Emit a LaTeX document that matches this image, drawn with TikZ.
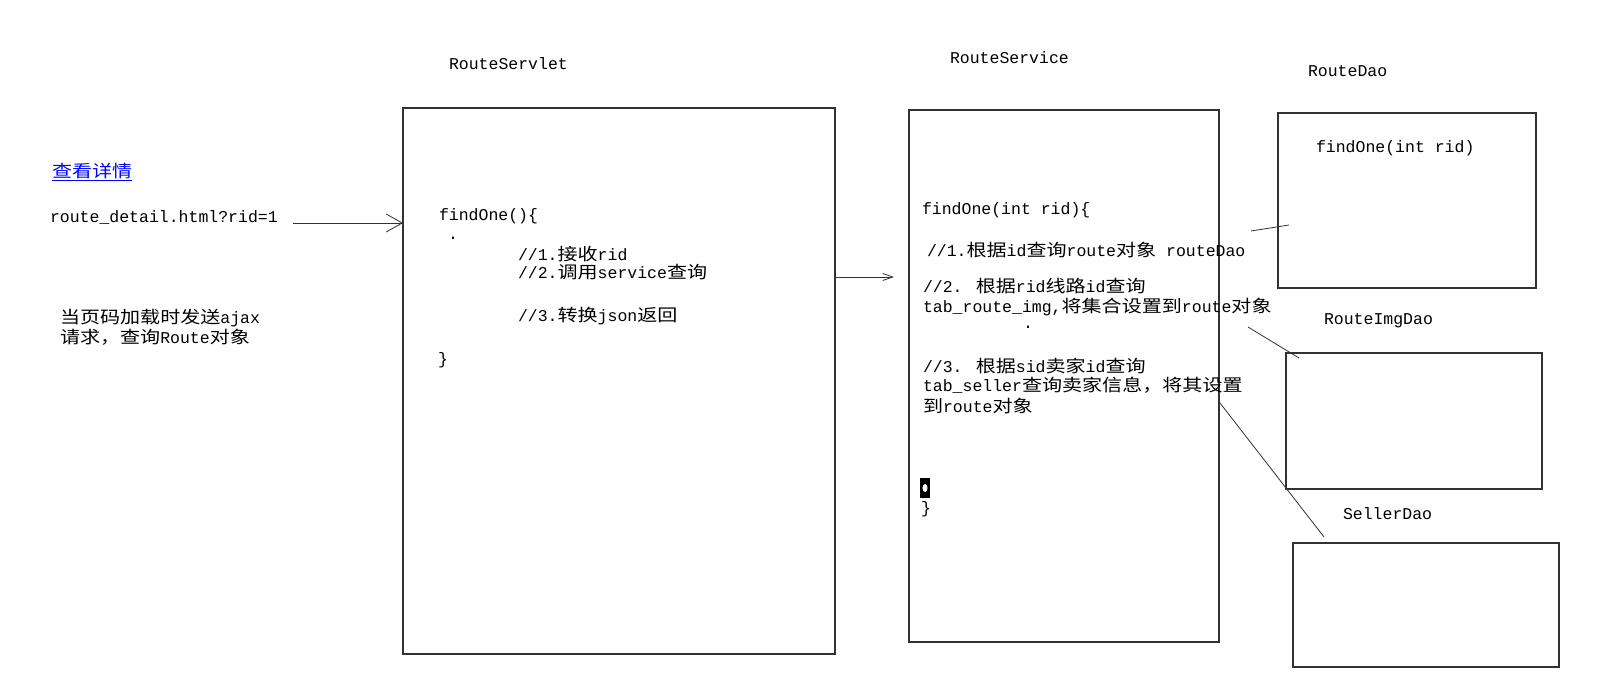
\documentclass[tikz,border=0pt]{standalone}
\usepackage{fontspec}
\setmainfont{Liberation Mono}
\newfontfamily\cjk[Scale=1.03,FakeStretch=1.18]{Noto Sans CJK SC}
\newcommand\zh[1]{{\cjk #1}}
\usetikzlibrary{arrows.meta}
\definecolor{linkblue}{RGB}{0,0,255}
\definecolor{boxgray}{RGB}{50,50,50}
\begin{document}
\begin{tikzpicture}[x=1pt,y=-1pt,
  txt/.style={inner sep=0pt, outer sep=0pt, anchor=base west, font=\fontsize{16.5}{20}\selectfont},
  box/.style={draw=boxgray, line width=1.1pt, inner sep=0pt, outer sep=0pt, anchor=north west},
  wire/.style={draw=boxgray, line width=0.8pt}]
\useasboundingbox[fill=white] (0,0) rectangle (1619,682);

% boxes
\node[box, minimum width=432pt, minimum height=546pt] (servlet) at (403,108) {};
\node[box, minimum width=310pt, minimum height=532pt] (service) at (909,110) {};
\node[box, minimum width=258pt, minimum height=175pt] (routedao) at (1278,113) {};
\node[box, minimum width=256pt, minimum height=136pt] (imgdao) at (1286,353) {};
\node[box, minimum width=266pt, minimum height=124pt] (sellerdao) at (1293,543) {};

% titles
\node[txt] (tservlet) at (449,70) {RouteServlet};
\node[txt] (tservice) at (950,64) {RouteService};
\node[txt] (tdao) at (1308,77) {RouteDao};
\node[txt] (timg) at (1324,324) {RouteImgDao};
\node[txt] (tseller) at (1343,519) {SellerDao};

% left side
\node[txt, text=linkblue] (link) at (52,177) {\zh{查看详情}};
\draw[linkblue, line width=1pt] ([yshift=-3pt]link.base west) -- ([yshift=-3pt]link.base east);
\node[txt] (url) at (50,222) {route\_detail.html?rid=1};
\node[txt] (note1) at (60,323) {\zh{当页码加载时发送}ajax};
\node[txt] (note2) at (60,343) {\zh{请求，查询}Route\zh{对象}};

% servlet contents
\node[txt] (s0) at (439,220) {findOne()\{};
\node[txt] (sdot) at (448,239) {.};
\node[txt] (s1) at (518,260) {//1.\zh{接收}rid};
\node[txt] (s2) at (518,278) {//2.\zh{调用}service\zh{查询}};
\node[txt] (s3) at (518,321) {//3.\zh{转换}json\zh{返回}};
\node[txt] (s4) at (438,364) {\}};

% service contents
\node[txt] (v0) at (922,214) {findOne(int rid)\{};
\node[txt] (v1) at (927,256) {//1.\zh{根据}id\zh{查询}route\zh{对象} routeDao};
\node[txt] (v2) at (923,292) {//2. \zh{根据}rid\zh{线路}id\zh{查询}};
\node[txt] (v3) at (923,312) {tab\_route\_img,\zh{将集合设置到}route\zh{对象}};
\node[txt] (vdot) at (1023,328) {.};
\node[txt] (v4) at (923,372) {//3. \zh{根据}sid\zh{卖家}id\zh{查询}};
\node[txt] (v5) at (923,391) {tab\_seller\zh{查询卖家信息，将其设置}};
\node[txt] (v6) at (923,412) {\zh{到}route\zh{对象}};
\node[fill=black, minimum width=10pt, minimum height=20pt, inner sep=0pt] (cursor) at (925,488) {};
\fill[white] (cursor.center) ellipse (2.5pt and 4pt);
\node[txt] (v7) at (921,513) {\}};

% routedao contents
\node[txt] (d0) at (1316,152) {findOne(int rid)};

% arrows
\coordinate (a1) at (293,223);
\draw[wire, -{Straight Barb[length=16pt,width=18pt]}] (a1) -- (a1 -| servlet.west);
\coordinate (a2) at (894,277);
\draw[wire, -{Straight Barb[length=10pt,width=7pt]}] (a2 -| servlet.east) -- (a2);

% free lines
\coordinate (l1a) at (1251,231); \coordinate (l1b) at (1289,225);
\coordinate (l2a) at (1248,327); \coordinate (l2b) at (1299,358);
\coordinate (l3a) at (1220,403); \coordinate (l3b) at (1324,537);
\draw[wire] (l1a) -- (l1b);
\draw[wire] (l2a) -- (l2b);
\draw[wire] (l3a) -- (l3b);
\end{tikzpicture}
\end{document}
